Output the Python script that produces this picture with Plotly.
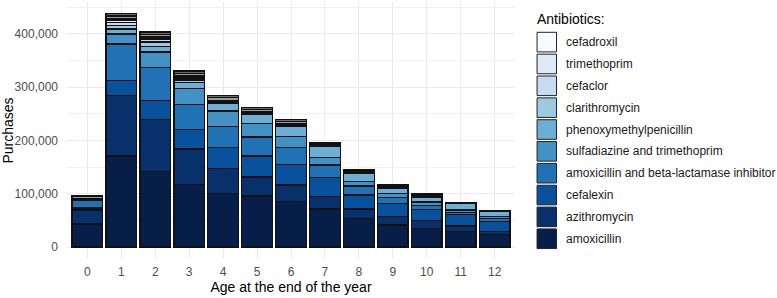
import plotly.graph_objects as go

ages = [str(a) for a in range(13)]

amoxicillin = [43000, 170600, 141250, 117500, 100600, 95600, 85000, 71250, 53750, 41250, 35000, 28750, 23750]
azithromycin = [26400, 113800, 98150, 66250, 46300, 35650, 31250, 23150, 17500, 16250, 14400, 10650, 5000]
cefalexin = [3700, 28100, 35000, 36850, 39350, 39350, 38750, 36200, 26250, 23750, 21200, 21900, 19350]
amox_beta = [13700, 68100, 62500, 46900, 40000, 35650, 31250, 23150, 16900, 11850, 7500, 3750, 5650]
sulfa_trim = [1500, 18800, 28700, 30000, 28750, 25650, 21250, 14350, 8100, 6900, 6300, 4300, 3150]
phenoxy = [1000, 9400, 10650, 11500, 13750, 16850, 19400, 20000, 15600, 10600, 8700, 12500, 9350]
clarithromycin = [800, 7000, 8000, 4000, 2500, 2000, 1500, 1200, 1000, 800, 1200, 500, 600]
cefaclor = [700, 4800, 4500, 3000, 1500, 1200, 1000, 800, 600, 500, 700, 300, 300]
trimethoprim = [500, 3500, 3000, 2500, 1200, 1000, 800, 600, 500, 400, 500, 200, 200]
cefadroxil = [300, 3400, 2000, 2000, 1000, 800, 600, 400, 300, 300, 300, 100, 100]
# further antibiotics outside the legend (grey)
other_a = [3000, 5500, 5000, 5000, 5000, 3500, 4000, 2500, 2600, 2500, 1800, 450, 350]
other_b = [2400, 5000, 4250, 4500, 4550, 4000, 3700, 2400, 2500, 2400, 1800, 400, 300]

names = ["amoxicillin", "azithromycin", "cefalexin", "amoxicillin and beta-lactamase inhibitor",
         "sulfadiazine and trimethoprim", "phenoxymethylpenicillin", "clarithromycin",
         "cefaclor", "trimethoprim", "cefadroxil"]
series = [amoxicillin, azithromycin, cefalexin, amox_beta, sulfa_trim, phenoxy,
          clarithromycin, cefaclor, trimethoprim, cefadroxil]
colors = ["#071E48", "#08306B", "#08519C", "#2171B5", "#4292C6", "#6BAED6",
          "#9ECAE1", "#C6DBEF", "#DEEBF7", "#F7FBFF"]

FONT = "Liberation Sans, Arial, sans-serif"

fig = go.Figure()
for n, s, c in zip(names, series, colors):
    fig.add_trace(go.Bar(x=ages, y=s, name=n, marker=dict(color=c, line=dict(color="#111111", width=1.2)),
                         width=0.9, showlegend=False))
for s, c in [(other_a, "#9a9a9a"), (other_b, "#6a6a6a")]:
    fig.add_trace(go.Bar(x=ages, y=s, name="other", marker=dict(color=c, line=dict(color="#111111", width=1.2)),
                         width=0.9, showlegend=False))

W, H = 777, 298
L, R, T, B = 66.6, 515.4, 2.0, 259.0

def px(x):
    return (x - L) / (R - L)

def py(y):
    return (B - y) / (B - T)

shapes = []
annotations = []
annotations.append(dict(text="Antibiotics:", x=px(535), y=py(18.5), xref="paper", yref="paper",
                        xanchor="left", yanchor="middle", showarrow=False,
                        font=dict(family=FONT, size=14, color="black")))
step = 21.85
for i, (n, c) in enumerate(zip(names[::-1], colors[::-1])):
    top = 31.7 + i * step
    shapes.append(dict(type="rect", xref="paper", yref="paper", x0=px(537.5), x1=px(557),
                       y0=py(top + 20.2), y1=py(top + 0.6), fillcolor=c,
                       line=dict(color="#222222", width=1)))
    annotations.append(dict(text=n, x=px(564), y=py(top + 10.5), xref="paper", yref="paper",
                            xanchor="left", yanchor="middle", showarrow=False,
                            font=dict(family=FONT, size=12, color="#1a1a1a")))

fig.update_layout(
    barmode="stack",
    width=W, height=H,
    margin=dict(l=L, r=W - R, t=T, b=H - B, pad=0),
    paper_bgcolor="white", plot_bgcolor="white",
    font=dict(family=FONT),
    shapes=shapes, annotations=annotations,
    xaxis=dict(type="category", range=[-0.6, 12.6], showgrid=True, gridcolor="#ebebeb", gridwidth=1,
               ticks="", zeroline=False, showline=False, ticklabelstandoff=4,
               tickfont=dict(family=FONT, size=12, color="#4d4d4d"),
               title=dict(text="Age at the end of the year", font=dict(family=FONT, size=14, color="black"),
                          standoff=4)),
    yaxis=dict(range=[-22500, 459375], tickvals=[0, 100000, 200000, 300000, 400000], tickformat=",",
               showgrid=True, gridcolor="#ebebeb", gridwidth=1, zeroline=False, showline=False, ticks="",
               ticklabelstandoff=8,
               minor=dict(tickvals=[50000, 150000, 250000, 350000, 450000], showgrid=True,
                          gridcolor="#f2f2f2", gridwidth=0.6),
               tickfont=dict(family=FONT, size=12, color="#4d4d4d"),
               title=dict(text="Purchases", font=dict(family=FONT, size=14, color="black"), standoff=1)),
)

fig.write_html("out.html")
